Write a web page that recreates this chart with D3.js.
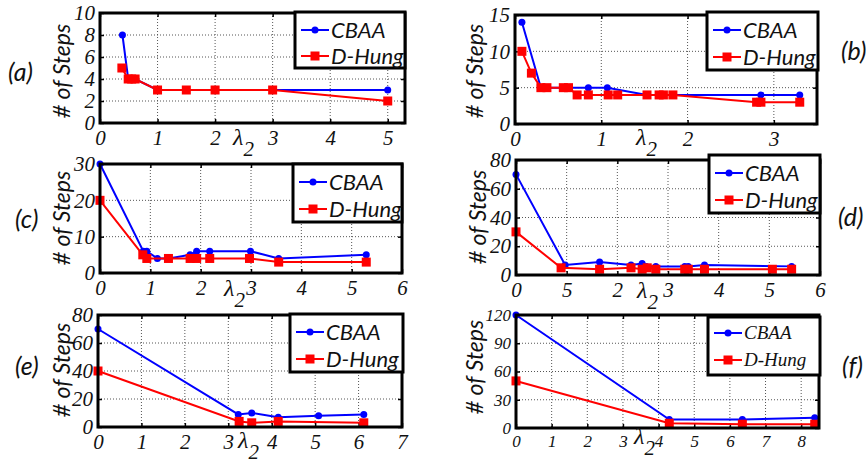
<!DOCTYPE html>
<html>
<head>
<meta charset="utf-8">
<script src="https://cdn.jsdelivr.net/npm/d3@7"></script>
<style>
  body { margin: 0; background: #fff; }
  svg { display: block; }
</style>
</head>
<body>
<div id="chart"></div>
<script>
////////////////////////////////////////////////////////////////////////
// Data, one set of arrays per panel

// (a)
let lamA_cbaa = [0.39, 0.49, 0.55, 0.61, 1, 1.5, 2, 3, 5];
let cbaaA     = [8, 4, 4, 4, 3, 3, 3, 3, 3];
let lamA_hung = [0.38, 0.49, 0.55, 0.61, 1, 1.5, 2, 3, 5];
let hungA     = [5, 4, 4, 4, 3, 3, 3, 3, 2];

// (b)
let lamB_cbaa = [0.08, 0.3, 0.37, 0.56, 0.62, 0.85, 1.07, 1.53, 1.67, 1.72, 1.83, 2.85, 3.3];
let cbaaB     = [14, 5, 5, 5, 5, 5, 5, 4, 4, 4, 4, 4, 4];
let lamB_hung = [0.08, 0.19, 0.3, 0.37, 0.56, 0.62, 0.72, 0.85, 1.08, 1.19, 1.53, 1.67, 1.72, 1.83, 2.8, 2.85, 3.3];
let hungB     = [10, 7, 5, 5, 5, 5, 4, 4, 4, 4, 4, 4, 4, 4, 3, 3, 3];

// (c)
let lamC_cbaa = [0, 0.86, 0.93, 1.14, 1.36, 1.79, 1.92, 2.18, 2.99, 3.55, 5.29];
let cbaaC     = [30, 6, 6, 4, 4, 5, 6, 6, 6, 4, 5];
let lamC_hung = [0, 0.85, 0.93, 1.36, 1.79, 1.92, 2.18, 2.97, 3.55, 5.29];
let hungC     = [20, 5, 4, 4, 4, 4, 4, 4, 3, 3];

// (d)
let lamD_cbaa = [0, 0.97, 1.65, 2.27, 2.49, 2.57, 2.76, 3.33, 3.4, 3.72, 5.44];
let cbaaD     = [70, 7, 9, 7, 8, 6, 6, 6, 6, 7, 6];
let lamD_hung = [0, 0.89, 1.65, 2.27, 2.49, 2.59, 2.76, 3.33, 3.4, 3.72, 5.06, 5.44];
let hungD     = [30, 5, 4, 5, 4, 5, 4, 4, 4, 4, 4, 4];

// (e)
let lamE_cbaa = [0, 3.23, 3.54, 4.15, 5.08, 6.12];
let cbaaE     = [70, 9, 10, 7, 8, 9];
let lamE_hung = [0, 3.25, 3.54, 4.15, 6.12];
let hungE     = [40, 4, 3, 4, 3];

// (f)
let lamF = [0, 4.3, 6.35, 8.38];
let cbaaF = [120, 9, 9, 11];
let hungF = [50, 5, 4, 4];

// tick values / labels
let xTicksA = [0, 1, 2, 3, 4, 5];        let yTicksA = [0, 2, 4, 6, 8, 10];
let xTicksB = [0, 1, 2, 3];              let yTicksB = [0, 5, 10, 15];
let xTicksC = [0, 1, 2, 3, 4, 5, 6];     let yTicksC = [0, 10, 20, 30];
let xTicksD = [0, 1, 2, 3, 4, 5, 6];     let yTicksD = [0, 20, 40, 60, 80];
let xLabelsD = ["0", "5", "2", "3", "4", "5", "6"];
let xTicksE = [0, 1, 2, 3, 4, 5, 6, 7];  let yTicksE = [0, 20, 40, 60, 80];
let xTicksF = [0, 1, 2, 3, 4, 5, 6, 7, 8]; let yTicksF = [0, 30, 60, 90, 120];

let seriesNames = ["CBAA", "D-Hung"];
let seriesColors = ["#0000ff", "#ff0000"];

////////////////////////////////////////////////////////////////////////
// Layout of each panel

let zip = (xs, ys) => xs.map((x, i) => ({x: x, y: ys[i]}));

let panels = [
  { tag: "(a)", box: {l: 100, r: 405, t: 13, b: 123}, xDom: [0, 5.3], yDom: [0, 10],
    xTicks: xTicksA, yTicks: yTicksA, series: [zip(lamA_cbaa, cbaaA), zip(lamA_hung, hungA)],
    legend: {x: 295, y: 12, w: 110, h: 56, r1: 18, r2: 44}, tagPos: [8, 81], yLab: [70, 71], lam: [233, 145] },
  { tag: "(b)", box: {l: 515, r: 817, t: 15, b: 124}, xDom: [0, 3.5], yDom: [0, 15],
    xTicks: xTicksB, yTicks: yTicksB, series: [zip(lamB_cbaa, cbaaB), zip(lamB_hung, hungB)],
    legend: {x: 707, y: 12, w: 111, h: 58, r1: 18, r2: 45}, tagPos: [841, 60], yLab: [483, 71], lam: [636, 145] },
  { tag: "(c)", box: {l: 100, r: 402, t: 164, b: 273}, xDom: [0, 6], yDom: [0, 30],
    xTicks: xTicksC, yTicks: yTicksC, series: [zip(lamC_cbaa, cbaaC), zip(lamC_hung, hungC)],
    legend: {x: 293, y: 164, w: 109, h: 58, r1: 18, r2: 45}, tagPos: [15, 228], yLab: [70, 218], lam: [224, 296] },
  { tag: "(d)", box: {l: 516, r: 820, t: 160, b: 275}, xDom: [0, 6], yDom: [0, 80],
    xTicks: xTicksD, xLabels: xLabelsD, yTicks: yTicksD, series: [zip(lamD_cbaa, cbaaD), zip(lamD_hung, hungD)],
    legend: {x: 709, y: 155, w: 111, h: 58, r1: 18, r2: 45}, tagPos: [838, 226], yLab: [486, 217], lam: [637, 298] },
  { tag: "(e)", box: {l: 98, r: 402, t: 315, b: 427}, xDom: [0, 7], yDom: [0, 80],
    xTicks: xTicksE, yTicks: yTicksE, series: [zip(lamE_cbaa, cbaaE), zip(lamE_hung, hungE)],
    legend: {x: 290, y: 314, w: 113, h: 58, r1: 18, r2: 45}, tagPos: [15, 375], yLab: [70, 370], lam: [238, 448] },
  { tag: "(f)", box: {l: 516, r: 819, t: 315, b: 428}, xDom: [0, 8.5], yDom: [0, 120],
    xTicks: xTicksF, yTicks: yTicksF, series: [zip(lamF, cbaaF), zip(lamF, hungF)],
    legend: {x: 708, y: 317, w: 112, h: 58, r1: 16, r2: 43}, tagPos: [842, 375], yLab: [483, 367], lam: [634, 444],
    small: true }
];

let width = 866, height = 467;

let svg = d3.select("#chart").append("svg")
  .attr("width", width).attr("height", height)
  .style("background", "#fff");

let tickFont = "'Liberation Serif', serif";
let sansFont = "Lato, 'Open Sans', sans-serif";

panels.forEach(function(p) {
  let g = svg.append("g");
  let bx = p.box;

  let x = d3.scaleLinear().domain(p.xDom).range([bx.l, bx.r]);
  let y = d3.scaleLinear().domain(p.yDom).range([bx.b, bx.t]);

  // dotted grid
  g.selectAll(".vgrid").data(p.xTicks.filter(v => v > p.xDom[0] && v < p.xDom[1]))
    .enter().append("line")
    .attr("x1", d => x(d)).attr("x2", d => x(d))
    .attr("y1", bx.t).attr("y2", bx.b)
    .style("stroke", "#555").style("stroke-width", 1)
    .style("stroke-dasharray", "1,2");
  g.selectAll(".hgrid").data(p.yTicks.filter(v => v > p.yDom[0] && v < p.yDom[1]))
    .enter().append("line")
    .attr("x1", bx.l).attr("x2", bx.r)
    .attr("y1", d => y(d)).attr("y2", d => y(d))
    .style("stroke", "#555").style("stroke-width", 1)
    .style("stroke-dasharray", "1,2");

  // axes (inward ticks, matlab style)
  let fs = p.small ? 17 : 21;
  let xAxis = d3.axisBottom(x).tickValues(p.xTicks).tickSize(-4).tickPadding(7)
    .tickFormat((d, i) => p.xLabels ? p.xLabels[i] : d);
  let yAxis = d3.axisLeft(y).tickValues(p.yTicks).tickSize(-4).tickPadding(5);
  let xTop = d3.axisTop(x).tickValues(p.xTicks).tickSize(-4).tickFormat("");
  let yRight = d3.axisRight(y).tickValues(p.yTicks).tickSize(-4).tickFormat("");

  [[xAxis, "translate(0," + bx.b + ")"], [yAxis, "translate(" + bx.l + ",0)"],
   [xTop, "translate(0," + bx.t + ")"], [yRight, "translate(" + bx.r + ",0)"]]
    .forEach(function(a) {
      let ag = g.append("g").attr("transform", a[1]).call(a[0]);
      ag.select(".domain").remove();
      ag.selectAll("line").style("stroke", "#000").style("stroke-width", 1.5);
      ag.selectAll("text")
        .style("font-family", tickFont).style("font-style", "italic")
        .style("font-size", fs + "px").style("fill", "#111");
    });

  // series
  let line = d3.line().x(d => x(d.x)).y(d => y(d.y));
  p.series.forEach(function(s, k) {
    g.append("path").datum(s)
      .attr("d", line)
      .style("fill", "none")
      .style("stroke", seriesColors[k])
      .style("stroke-width", 2);
    if (k == 0) {
      g.selectAll(".dot").data(s).enter().append("circle")
        .attr("cx", d => x(d.x)).attr("cy", d => y(d.y)).attr("r", 3.5)
        .style("fill", seriesColors[k]);
    } else {
      g.selectAll(".sq").data(s).enter().append("rect")
        .attr("x", d => x(d.x) - 4.5).attr("y", d => y(d.y) - 4.5)
        .attr("width", 9).attr("height", 9)
        .style("fill", seriesColors[k]);
    }
  });

  // frame
  g.append("rect")
    .attr("x", bx.l).attr("y", bx.t)
    .attr("width", bx.r - bx.l).attr("height", bx.b - bx.t)
    .style("fill", "none").style("stroke", "#000").style("stroke-width", 3);

  // legend
  let lg = p.legend;
  g.append("rect")
    .attr("x", lg.x).attr("y", lg.y).attr("width", lg.w).attr("height", lg.h)
    .style("fill", "#fff").style("stroke", "#000").style("stroke-width", 3);
  [lg.r1, lg.r2].forEach(function(ry, k) {
    let yy = lg.y + ry;
    g.append("line")
      .attr("x1", lg.x + 6).attr("x2", lg.x + 34)
      .attr("y1", yy).attr("y2", yy)
      .style("stroke", seriesColors[k]).style("stroke-width", 2);
    if (k == 0) {
      g.append("circle").attr("cx", lg.x + 20).attr("cy", yy).attr("r", 3.5)
        .style("fill", seriesColors[k]);
    } else {
      g.append("rect").attr("x", lg.x + 15.5).attr("y", yy - 4.5)
        .attr("width", 9).attr("height", 9).style("fill", seriesColors[k]);
    }
    g.append("text")
      .attr("x", lg.x + 36).attr("y", yy + (p.small ? 6 : 8))
      .text(seriesNames[k])
      .style("font-family", p.small ? tickFont : sansFont)
      .style("font-style", "italic")
      .style("font-size", p.small ? "19px" : "22px")
      .style("fill", "#111");
  });

  // y label
  g.append("text")
    .attr("transform", "translate(" + p.yLab[0] + "," + p.yLab[1] + ") rotate(-90)")
    .style("text-anchor", "middle")
    .style("font-family", sansFont).style("font-style", "italic")
    .style("font-size", "23px").style("fill", "#111")
    .text("# of Steps");

  // x label lambda_2
  let lt = g.append("text")
    .attr("x", p.lam[0]).attr("y", p.lam[1])
    .style("font-family", tickFont).style("font-style", "italic")
    .style("font-size", "24px").style("fill", "#111");
  lt.append("tspan").text("λ");
  lt.append("tspan").attr("dy", 11).style("font-size", "21px").text("2");

  // panel tag
  g.append("text")
    .attr("x", p.tagPos[0]).attr("y", p.tagPos[1])
    .style("font-family", sansFont).style("font-style", "italic")
    .style("font-size", "25px").style("fill", "#111")
    .text(p.tag);
});
</script>
</body>
</html>
